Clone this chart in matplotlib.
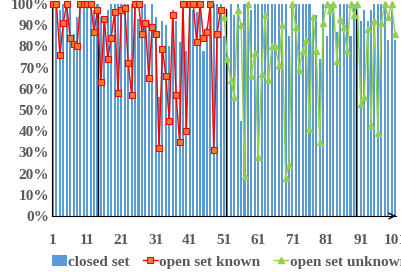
import numpy as np
import matplotlib
matplotlib.use("Agg")
import matplotlib.pyplot as plt

plt.rcParams['font.family'] = ['Liberation Serif', 'DejaVu Serif']
plt.rcParams['font.weight'] = 'bold'

# sample index 1..101
idx = np.arange(1, 102)

# closed set accuracy (%) for every sample
closed_set = [100, 100, 97, 100, 100, 100, 86, 94, 100, 100,
              100, 100, 97, 100, 94, 94, 97, 100, 100, 100,
              100, 100, 100, 100, 100, 93, 100, 100, 92, 100,
              94, 56, 92, 90, 80, 97, 92, 82, 100, 78,
              100, 97, 96, 100, 78, 89, 100, 100, 100, 100,
              85, 75, 100, 95, 100, 45, 100, 100, 97, 100,
              100, 100, 100, 100, 100, 100, 100, 100, 100, 85,
              100, 100, 100, 100, 100, 100, 94, 95, 74, 100,
              85, 100, 100, 87, 100, 100, 100, 85, 100, 100,
              92, 97, 92, 97, 100, 100, 100, 100, 83, 97, 83]

# open set, known classes (samples 1..50)
open_known = [100, 100, 76, 91, 100, 84, 81, 80, 100, 100,
              100, 100, 87, 97, 63, 93, 74, 84, 96, 58,
              97, 98, 72, 57, 100, 100, 86, 91, 65, 89,
              86, 32, 79, 66, 45, 95, 57, 35, 100, 40,
              100, 100, 82, 100, 84, 87, 100, 31, 86, 97]

# open set, unknown classes (samples 51..101)
open_unknown = [94, 74, 64, 56, 97, 90, 19, 100, 66, 77,
                28, 67, 95, 64, 80, 80, 71, 90, 18, 24,
                100, 89, 69, 78, 83, 41, 94, 78, 35, 91,
                100, 97, 100, 73, 93, 89, 78, 100, 95, 100,
                53, 56, 88, 43, 92, 39, 91, 100, 94, 100, 86]

xticks = [1, 11, 21, 31, 41, 51, 61, 71, 81, 91, 101]
yticks = [0, 10, 20, 30, 40, 50, 60, 70, 80, 90, 100]
dividers = [14.2, 51.7, 89.5]

gray = '#595959'

fig = plt.figure(figsize=(4.02, 2.72), dpi=100)
ax = fig.add_axes([52 / 402, 1 - 216 / 272, 344 / 402, 212 / 272])

bars = ax.bar(idx, closed_set, width=0.6, color='#5B9BD5', label='closed set', zorder=1)

for d in dividers:
    ax.axvline(d, ymin=0, ymax=0.975, color='black', lw=1.0, zorder=2)

known_x = idx[:len(open_known)]
unknown_x = idx[len(open_known):]
l1, = ax.plot(known_x, open_known, color='#FF0000', lw=1.0, marker='s', markersize=5,
              markerfacecolor='#ED7D31', markeredgecolor='#FF0000', markeredgewidth=0.8,
              label='open set known', zorder=3, clip_on=False)
l2, = ax.plot(unknown_x, open_unknown, color='#92D050', lw=1.0, marker='^', markersize=5,
              markerfacecolor='#92D050', markeredgecolor='#92D050',
              label='open set unknown', zorder=3, clip_on=False)

ax.set_xlim(0.7, 101.3)
ax.set_ylim(0, 100)
ax.set_xticks(xticks)
ax.set_xticklabels([str(t) for t in xticks])
ax.set_yticks(yticks)
ax.set_yticklabels([f'{t}%' for t in yticks])
ax.tick_params(axis='both', length=0, labelsize=11, labelcolor=gray)
ax.tick_params(axis='x', pad=13)
ax.tick_params(axis='y', pad=2)
for lab in ax.get_xticklabels() + ax.get_yticklabels():
    lab.set_fontweight('bold')

for s in ['top', 'right']:
    ax.spines[s].set_visible(False)
ax.spines['left'].set_color('black')
ax.spines['bottom'].set_color('black')
ax.annotate('', xy=(1.0, 0), xytext=(0.985, 0), xycoords='axes fraction',
            arrowprops=dict(arrowstyle='->', color='black', lw=1.0))

leg = fig.legend([bars, l1, l2], ['closed set', 'open set known', 'open set unknown'],
                 loc='lower left', bbox_to_anchor=(46 / 402, -0.01), ncol=3, frameon=False,
                 fontsize=11, handlelength=0.95, handletextpad=0.08, columnspacing=0.9,
                 borderaxespad=0.0)
for t in leg.get_texts():
    t.set_color(gray)
    t.set_fontweight('bold')

fig.savefig('out.png', dpi=100)
